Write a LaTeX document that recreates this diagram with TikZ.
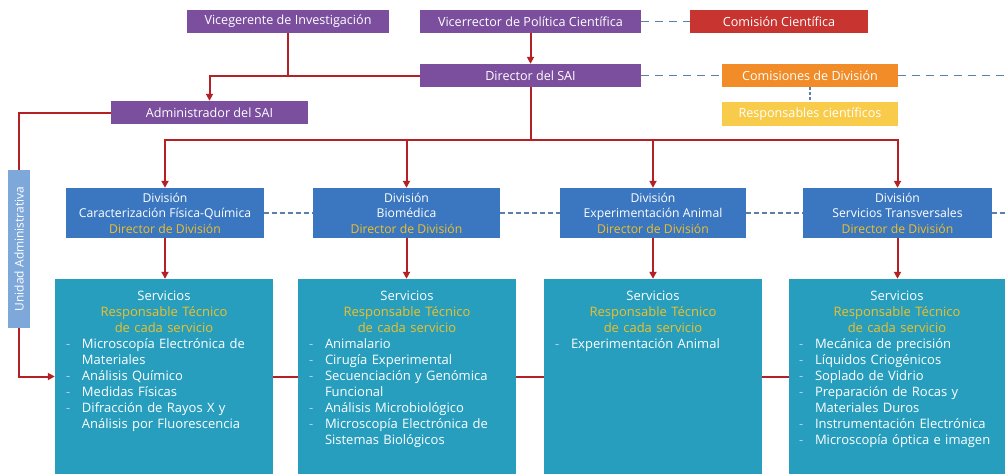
\documentclass[tikz,border=0pt]{standalone}
\usepackage{fontspec}
\setmainfont{Open Sans}
\usetikzlibrary{positioning, arrows.meta}
\definecolor{vicepurple}{RGB}{123, 78, 158}
\definecolor{comred}{RGB}{200, 52, 47}
\definecolor{comorange}{RGB}{242, 140, 40}
\definecolor{respyellow}{RGB}{248, 204, 74}
\definecolor{divblue}{RGB}{59, 119, 192}
\definecolor{srvteal}{RGB}{40, 158, 190}
\definecolor{unitblue}{RGB}{127, 168, 218}
\definecolor{linered}{RGB}{181, 32, 37}
\definecolor{dashblue}{RGB}{90, 127, 168}
\definecolor{dirgold}{RGB}{238, 192, 40}
\definecolor{bulletgray}{RGB}{170, 215, 230}

\newcommand{\srvitem}[1]{\makebox[16pt][l]{\textcolor{bulletgray}{-}}#1}
\newcommand{\srvcont}[1]{\hspace*{16pt}#1}

\begin{document}
\begin{tikzpicture}[
  x=1pt, y=-1pt,
  every node/.style={font=\fontsize{12.2}{15.5}\selectfont},
  topbox/.style={
    rectangle, fill=#1, text=white,
    minimum height=23pt, inner sep=2pt,
    font=\fontsize{12.6}{15}\selectfont
  },
  divbox/.style={
    rectangle, fill=divblue, text=white,
    minimum height=50pt, align=center, inner sep=2pt
  },
  srvbox/.style={
    rectangle, fill=srvteal,
    minimum width=218pt, minimum height=195pt
  },
  srvtext/.style={
    text=white, text width=196pt, align=center,
    inner sep=0pt, font=\fontsize{13}{16}\selectfont
  },
  redline/.style={draw=linered, line width=2pt},
  redarrow/.style={redline, -{Triangle[length=7pt, width=7pt]}},
  dashline/.style={draw=dashblue, line width=1.6pt, dash pattern=on 8pt off 6pt}
]

\path[use as bounding box, fill=white] (0,0) rectangle (1005,474);

% Top level
\node[topbox=vicepurple, minimum width=202pt] (vg) at (288,21.5) {Vicegerente de Investigación};
\node[topbox=vicepurple, minimum width=221pt] (vr) at (530.5,21.5) {Vicerrector de Política Científica};
\node[topbox=comred, minimum width=178pt] (cc) at (779,21.5) {Comisión Científica};
\node[topbox=vicepurple, minimum width=221pt] (dir) at (530.5,75.5) {Director del SAI};
\node[topbox=comorange, minimum width=176pt] (cd) at (810,75.5) {Comisiones de División};
\node[topbox=respyellow, minimum width=176pt, minimum height=24pt] (rc) at (810,114) {Responsables científicos};
\node[topbox=vicepurple, minimum width=197pt] (adm) at (209.5,112.5) {Administrador del SAI};
\node[topbox=unitblue, rotate=90, minimum width=158pt, minimum height=22pt,
      font=\fontsize{12}{14}\selectfont] (ua) at (19,249) {Unidad Administrativa};

% Divisiones
\node[divbox, minimum width=198pt] (d1) at (165,213)
  {División\\Caracterización Física-Química\\\textcolor{dirgold}{Director de División}};
\node[divbox, minimum width=187pt] (d2) at (406.5,213)
  {División\\Biomédica\\\textcolor{dirgold}{Director de División}};
\node[divbox, minimum width=186pt] (d3) at (653,213)
  {División\\Experimentación Animal\\\textcolor{dirgold}{Director de División}};
\node[divbox, minimum width=189pt] (d4) at (897.5,213)
  {División\\Servicios Transversales\\\textcolor{dirgold}{Director de División}};

% Servicios
\node[srvbox] (s1) at (164,376.5) {};
\node[srvbox] (s2) at (407,376.5) {};
\node[srvbox] (s3) at (653,376.5) {};
\node[srvbox, minimum width=216pt] (s4) at (897,376.5) {};

\node[srvtext, anchor=north] (s1t) at ([yshift=-12pt]s1.north) {
  Servicios\\
  \textcolor{dirgold}{Responsable Técnico}\\
  \textcolor{dirgold}{de cada servicio}\\
  \parbox[t]{196pt}{\raggedright
    \srvitem{Microscopía Electrónica de}\\
    \srvcont{Materiales}\\
    \srvitem{Análisis Químico}\\
    \srvitem{Medidas Físicas}\\
    \srvitem{Difracción de Rayos X y}\\
    \srvcont{Análisis por Fluorescencia}}
};
\node[srvtext, anchor=north] (s2t) at ([yshift=-12pt]s2.north) {
  Servicios\\
  \textcolor{dirgold}{Responsable Técnico}\\
  \textcolor{dirgold}{de cada servicio}\\
  \parbox[t]{196pt}{\raggedright
    \srvitem{Animalario}\\
    \srvitem{Cirugía Experimental}\\
    \srvitem{Secuenciación y Genómica}\\
    \srvcont{Funcional}\\
    \srvitem{Análisis Microbiológico}\\
    \srvitem{Microscopía Electrónica de}\\
    \srvcont{Sistemas Biológicos}}
};
\node[srvtext, anchor=north] (s3t) at ([yshift=-12pt]s3.north) {
  Servicios\\
  \textcolor{dirgold}{Responsable Técnico}\\
  \textcolor{dirgold}{de cada servicio}\\
  \parbox[t]{196pt}{\raggedright
    \srvitem{Experimentación Animal}}
};
\node[srvtext, anchor=north] (s4t) at ([yshift=-12pt]s4.north) {
  Servicios\\
  \textcolor{dirgold}{Responsable Técnico}\\
  \textcolor{dirgold}{de cada servicio}\\
  \parbox[t]{196pt}{\raggedright
    \srvitem{Mecánica de precisión}\\
    \srvitem{Líquidos Criogénicos}\\
    \srvitem{Soplado de Vidrio}\\
    \srvitem{Preparación de Rocas y}\\
    \srvcont{Materiales Duros}\\
    \srvitem{Instrumentación Electrónica}\\
    \srvitem{Microscopía óptica e imagen}}
};

% Red connectors
\coordinate (bus) at (530.5,140);
\draw[redline] (vg.south) -- (vg.south |- dir.west);
\draw[redarrow] (dir.west) -| (adm.north);
\draw[redarrow] (vr.south) -- (dir.north);
\draw[redline] (dir.south) -- (bus);
\foreach \d in {d1,d2,d3,d4}
  \draw[redarrow] (bus) -| (\d.north);
\foreach \d/\s in {d1/s1,d2/s2,d3/s3,d4/s4}
  \draw[redarrow] (\d.south) -- (\d.south |- \s.north);
\draw[redline] (adm.west) -| (ua.east);
\draw[redarrow] (ua.west) |- (s1.west);
\draw[redline] (s1.east) -- (s2.west);
\draw[redline] (s2.east) -- (s3.west);
\draw[redline] (s3.east) -- (s4.west);

% Dashed links
\coordinate (cdend) at (1005,75.5);
\coordinate (divend) at (1005,213);
\draw[dashline] (vr.east) -- (cc.west);
\draw[dashline] (dir.east) -- (cd.west);
\draw[dashline] (cd.east) -- (cdend);
\draw[dashline, line width=1.2pt, dash pattern=on 3pt off 2pt] (cd.south) -- (rc.north);
\draw[dashline, dash pattern=on 5pt off 3pt] (d1.east) -- (d2.west);
\draw[dashline, dash pattern=on 5pt off 3pt] (d2.east) -- (d3.west);
\draw[dashline, dash pattern=on 5pt off 3pt] (d3.east) -- (d4.west);
\draw[dashline, dash pattern=on 5pt off 3pt] (d4.east) -- (divend);

\end{tikzpicture}
\end{document}
